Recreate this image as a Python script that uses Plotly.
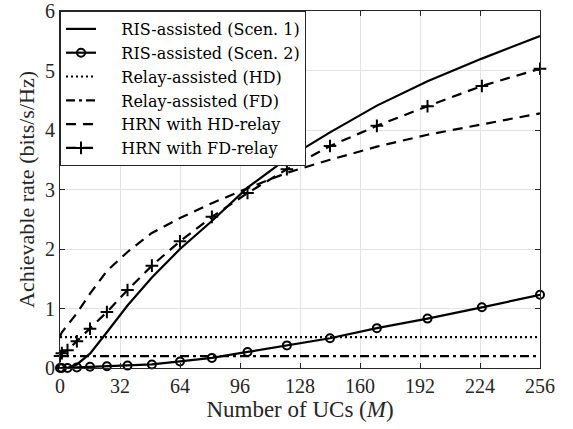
import plotly.graph_objects as go

M = [0, 1, 4, 9, 16, 25, 36, 49, 64, 81, 100, 121, 144, 169, 196, 225, 256]
ris_scen1 = [0, 0, 0, 0.06, 0.24, 0.6, 1.05, 1.52, 2.0, 2.47, 3.03, 3.52, 3.96, 4.41, 4.82, 5.2, 5.58]
ris_scen2 = [0, 0, 0, 0.01, 0.02, 0.03, 0.04, 0.06, 0.11, 0.17, 0.27, 0.38, 0.5, 0.67, 0.83, 1.02, 1.23]
relay_hd = [0.52] * len(M)
relay_fd = [0.2] * len(M)
hrn_hd = [0.53, 0.6, 0.72, 0.92, 1.25, 1.63, 1.95, 2.27, 2.52, 2.77, 3.02, 3.28, 3.5, 3.72, 3.92, 4.1, 4.28]
hrn_fd = [0.2, 0.25, 0.3, 0.45, 0.66, 0.94, 1.31, 1.72, 2.13, 2.54, 2.94, 3.34, 3.73, 4.07, 4.4, 4.74, 5.03]

x_ticks = [0, 32, 64, 96, 128, 160, 192, 224, 256]
y_ticks = [0, 1, 2, 3, 4, 5, 6]

names = ["RIS-assisted (Scen. 1)", "RIS-assisted (Scen. 2)", "Relay-assisted (HD)",
         "Relay-assisted (FD)", "HRN with HD-relay", "HRN with FD-relay"]

FONT = "Liberation Serif"
LFONT = "DejaVu Serif"
PAD = "\u00a0" * 4  # small lead-in so legend text sits after a longer sample

fig = go.Figure()
fig.add_trace(go.Scatter(x=M, y=ris_scen1, mode="lines", name=PAD + names[0],
                         line=dict(color="black", width=2.2), cliponaxis=False))
fig.add_trace(go.Scatter(x=M, y=ris_scen2, mode="lines+markers", name=PAD + names[1],
                         line=dict(color="black", width=2.2),
                         marker=dict(symbol="circle-open", size=8, color="black", line=dict(width=2)),
                         cliponaxis=False))
fig.add_trace(go.Scatter(x=M, y=relay_hd, mode="lines", name=PAD + names[2],
                         line=dict(color="black", width=2.2, dash="2px,3px"), cliponaxis=False))
fig.add_trace(go.Scatter(x=M, y=relay_fd, mode="lines", name=PAD + names[3],
                         line=dict(color="black", width=2.2, dash="9px,4px,3px,4px"), cliponaxis=False))
fig.add_trace(go.Scatter(x=M, y=hrn_hd, mode="lines", name=PAD + names[4],
                         line=dict(color="black", width=2.2, dash="10px,7px"), cliponaxis=False))
fig.add_trace(go.Scatter(x=M, y=hrn_fd, mode="lines+markers", name=PAD + names[5],
                         line=dict(color="black", width=2.2, dash="10px,7px"),
                         marker=dict(symbol="cross-thin", size=9, color="black", line=dict(width=2, color="black")),
                         cliponaxis=False))

axis_common = dict(showgrid=True, gridcolor="#e3e3e3", gridwidth=1,
                   showline=True, linecolor="#262626", linewidth=1, mirror="ticks",
                   ticks="inside", ticklen=5, tickcolor="#262626", zeroline=False,
                   automargin=False, ticklabeloverflow="allow",
                   tickfont=dict(family=FONT, size=20, color="#262626"))

fig.update_layout(
    width=573, height=429,
    margin=dict(l=60, r=33, t=11, b=61, pad=0),
    paper_bgcolor="white", plot_bgcolor="white",
    font=dict(family=FONT, size=20, color="#262626"),
    showlegend=True,
    legend=dict(x=0, y=1, xanchor="left", yanchor="top",
                bgcolor="white", bordercolor="#262626", borderwidth=1,
                font=dict(family=LFONT, size=16, color="black"),
                tracegroupgap=0),
    xaxis=dict(range=[0, 256], tickvals=x_ticks, ticktext=[str(v) for v in x_ticks],
               title=dict(text="Number of UCs (<i>M</i>)", font=dict(family=FONT, size=23), standoff=2),
               **axis_common),
    yaxis=dict(range=[0, 6], tickvals=y_ticks, ticktext=[str(v) for v in y_ticks],
               title=dict(text="Achievable rate (bits/s/Hz)", font=dict(family=FONT, size=22), standoff=4),
               **axis_common),
)

fig.write_html("out.html", config={"displayModeBar": False},
               post_script="document.body.style.margin='0';document.body.style.overflow='hidden';")
